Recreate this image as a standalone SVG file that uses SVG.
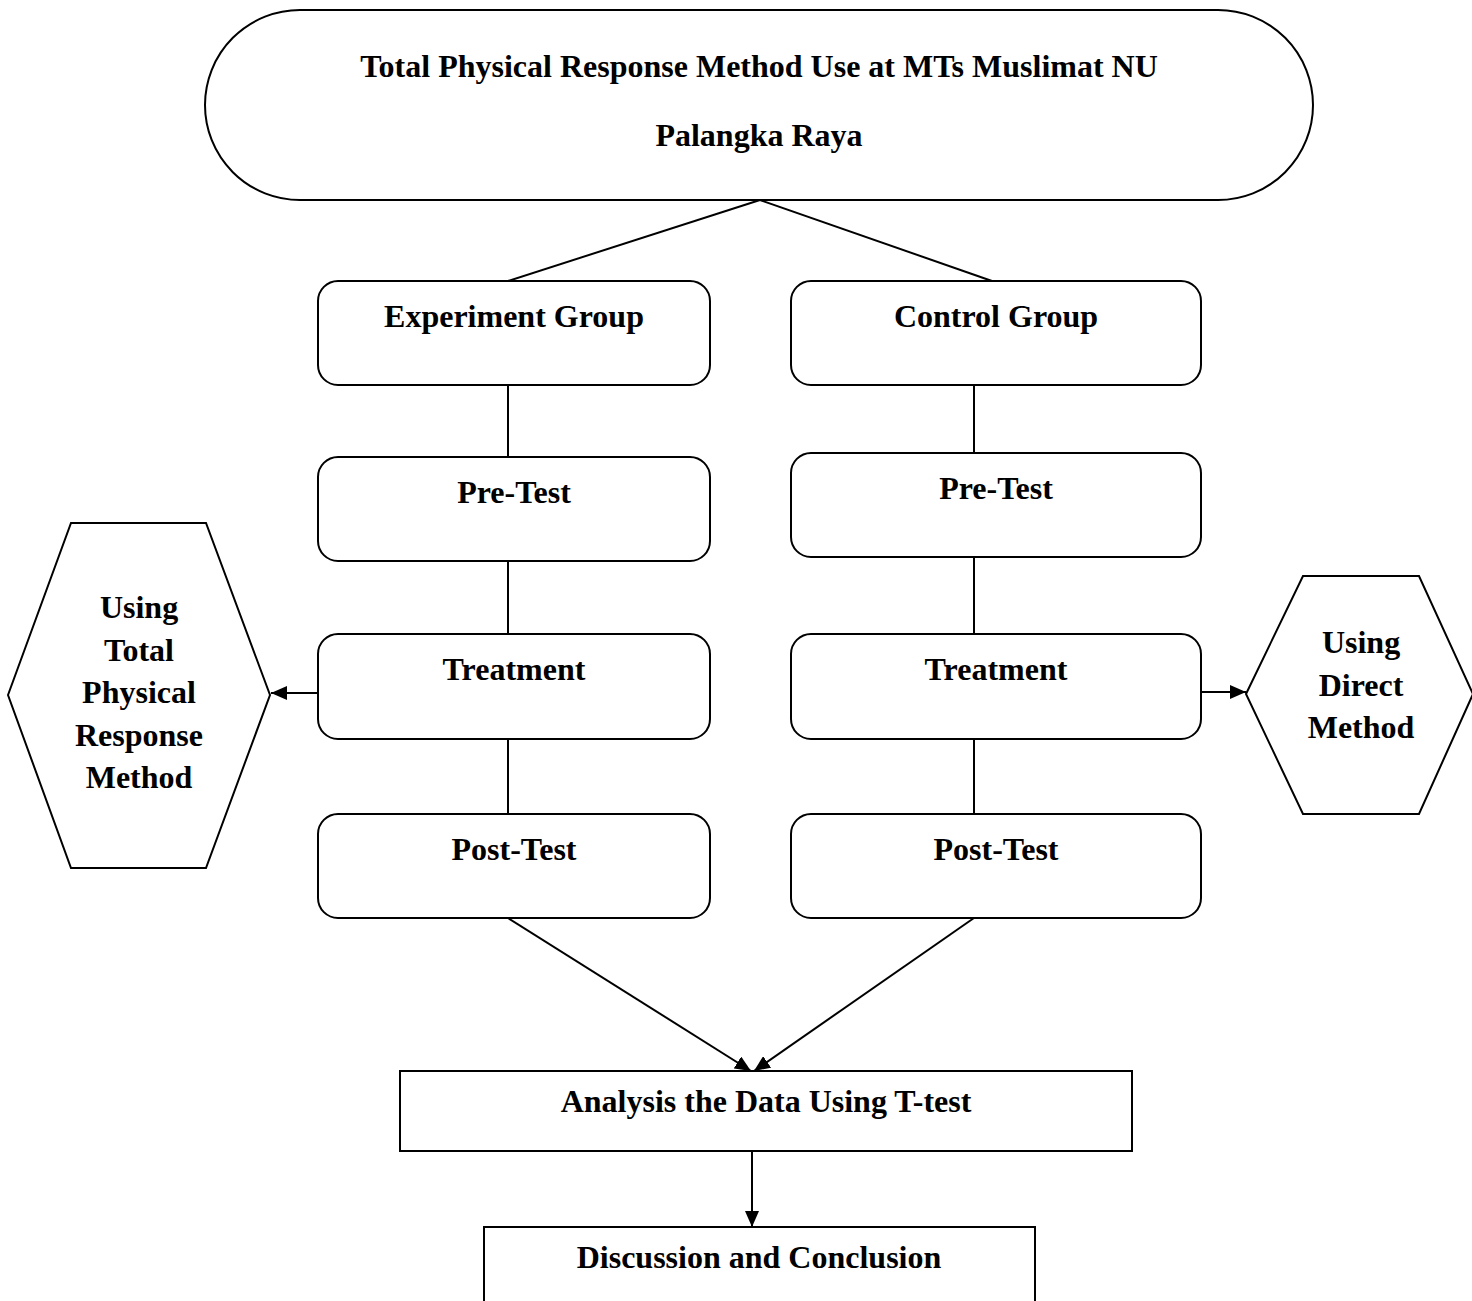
<svg xmlns="http://www.w3.org/2000/svg" width="1472" height="1301" viewBox="0 0 1472 1301">
<defs>
<style>
.s{fill:#fff;stroke:#000;stroke-width:2}
.c{fill:none;stroke:#000;stroke-width:2}
.t{font-family:"Liberation Serif","Times New Roman",serif;font-weight:bold;font-size:32px;text-anchor:middle;fill:#000}
</style>
<marker id="b" viewBox="0 0 16 14" refX="16" refY="7" markerWidth="16" markerHeight="14" markerUnits="userSpaceOnUse" orient="auto">
<path d="M0,0 L16,7 L0,14 z" fill="#000"/>
</marker>
</defs>
<rect width="1472" height="1301" fill="#fff"/>
<g id="connectors">
<line class="c" x1="760" y1="200" x2="508" y2="281"/>
<line class="c" x1="760" y1="200" x2="992" y2="281"/>
<line class="c" x1="508" y1="385" x2="508" y2="457"/>
<line class="c" x1="508" y1="561" x2="508" y2="634"/>
<line class="c" x1="508" y1="739" x2="508" y2="814"/>
<line class="c" x1="974" y1="385" x2="974" y2="453"/>
<line class="c" x1="974" y1="557" x2="974" y2="634"/>
<line class="c" x1="974" y1="739" x2="974" y2="814"/>
<line class="c" x1="318" y1="693" x2="271" y2="693" marker-end="url(#b)"/>
<line class="c" x1="1201" y1="692" x2="1246" y2="692" marker-end="url(#b)"/>
<line class="c" x1="508" y1="918" x2="751" y2="1071" marker-end="url(#b)"/>
<line class="c" x1="974" y1="918" x2="754" y2="1071" marker-end="url(#b)"/>
<line class="c" x1="752" y1="1151" x2="752" y2="1227" marker-end="url(#b)"/>
</g>
<g id="title">
<rect class="s" x="205" y="10" width="1108" height="190" rx="95" ry="95"/>
<text class="t" x="759" y="77">Total Physical Response Method Use at MTs Muslimat NU</text>
<text class="t" x="759" y="146">Palangka Raya</text>
</g>
<g id="exp-group">
<rect class="s" x="318" y="281" width="392" height="104" rx="20"/>
<text class="t" x="514" y="327">Experiment Group</text>
</g>
<g id="ctrl-group">
<rect class="s" x="791" y="281" width="410" height="104" rx="20"/>
<text class="t" x="996" y="327">Control Group</text>
</g>
<g id="exp-pre">
<rect class="s" x="318" y="457" width="392" height="104" rx="20"/>
<text class="t" x="514" y="503">Pre-Test</text>
</g>
<g id="ctrl-pre">
<rect class="s" x="791" y="453" width="410" height="104" rx="20"/>
<text class="t" x="996" y="499">Pre-Test</text>
</g>
<g id="exp-treat">
<rect class="s" x="318" y="634" width="392" height="105" rx="20"/>
<text class="t" x="514" y="680">Treatment</text>
</g>
<g id="ctrl-treat">
<rect class="s" x="791" y="634" width="410" height="105" rx="20"/>
<text class="t" x="996" y="680">Treatment</text>
</g>
<g id="exp-post">
<rect class="s" x="318" y="814" width="392" height="104" rx="20"/>
<text class="t" x="514" y="860">Post-Test</text>
</g>
<g id="ctrl-post">
<rect class="s" x="791" y="814" width="410" height="104" rx="20"/>
<text class="t" x="996" y="860">Post-Test</text>
</g>
<g id="tpr-method">
<polygon class="s" points="8,695 71,523 206,523 270,695 206,868 71,868"/>
<text class="t" x="139" y="618">Using</text>
<text class="t" x="139" y="661">Total</text>
<text class="t" x="139" y="703">Physical</text>
<text class="t" x="139" y="746">Response</text>
<text class="t" x="139" y="788">Method</text>
</g>
<g id="direct-method">
<polygon class="s" points="1246,694 1303,576 1419,576 1473,694 1419,814 1303,814"/>
<text class="t" x="1361" y="653">Using</text>
<text class="t" x="1361" y="696">Direct</text>
<text class="t" x="1361" y="738">Method</text>
</g>
<g id="analysis">
<rect class="s" x="400" y="1071" width="732" height="80"/>
<text class="t" x="766" y="1112">Analysis the Data Using T-test</text>
</g>
<g id="discussion">
<rect class="s" x="484" y="1227" width="551" height="90"/>
<text class="t" x="759" y="1268">Discussion and Conclusion</text>
</g>
</svg>
